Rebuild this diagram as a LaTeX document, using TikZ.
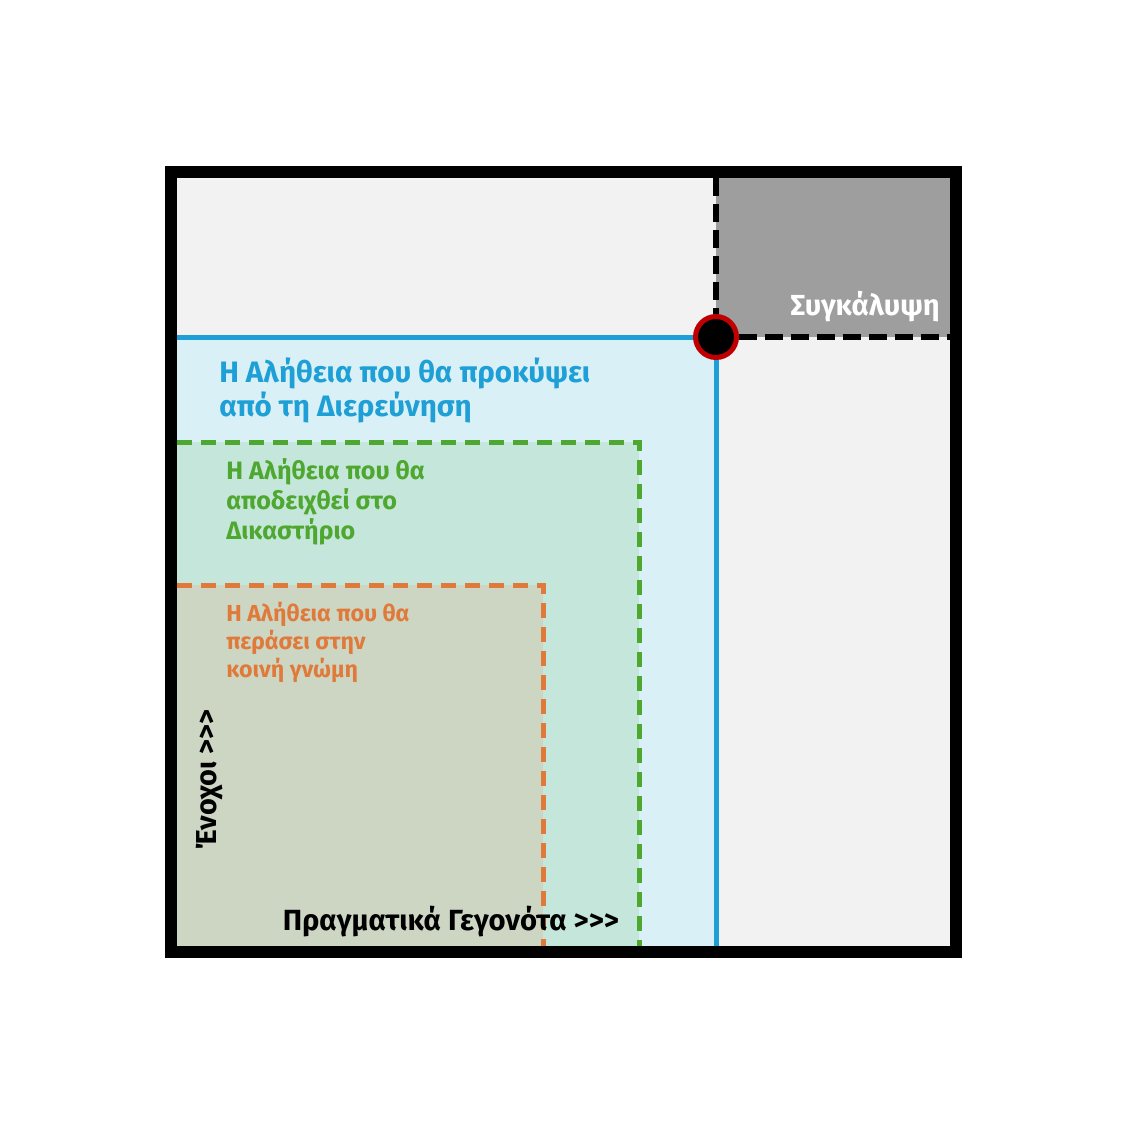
\documentclass[tikz,border=0pt]{standalone}
\usepackage{fontspec}
\setmainfont{Fira Sans}
\usetikzlibrary{positioning}
\definecolor{bgGrey}{RGB}{242,242,242}
\definecolor{coverGrey}{RGB}{158,158,158}
\definecolor{probeFill}{RGB}{218,240,247}
\definecolor{probeBlue}{RGB}{30,159,214}
\definecolor{courtFill}{RGB}{197,230,218}
\definecolor{courtGreen}{RGB}{78,167,46}
\definecolor{publicFill}{RGB}{205,214,195}
\definecolor{publicOrange}{RGB}{224,122,58}
\definecolor{dotRed}{RGB}{192,0,0}
\tikzset{
  frame/.style   = {draw=black, line width=0.24cm},
  solidln/.style = {line width=0.1cm},
  dashln/.style  = {line width=0.1cm, dash pattern=on 0.3cm off 0.18cm},
  bdash/.style   = {line width=0.12cm, dash pattern=on 0.36cm off 0.16cm},
  lbl/.style     = {inner sep=0pt, align=left, font=\bfseries}
}

\begin{document}
\begin{tikzpicture}[x=0.02cm, y=-0.02cm]
    \useasboundingbox[fill=white] (0,0) rectangle (1125,1125);

    % Areas
    \fill[bgGrey] (177,178) rectangle (950,946);
    \fill[coverGrey] (716,178) rectangle (950,337);
    \fill[probeFill] (177,337) rectangle (716,946);
    \fill[courtFill] (177,442) rectangle (639,946);
    \fill[publicFill] (177,585) rectangle (543,946);

    % Corners
    \coordinate (probeL) at (177,337);
    \coordinate (probeB) at (716,946);
    \coordinate (coverT) at (716,178);
    \coordinate (coverR) at (950,337);
    \coordinate (courtL) at (177,442);
    \coordinate (courtC) at (639,442);
    \coordinate (courtB) at (639,946);
    \coordinate (publicL) at (177,585);
    \coordinate (publicC) at (543,585);
    \coordinate (publicB) at (543,946);

    % Borders
    \draw[dashln, publicOrange] (publicL) -- (publicC) -- (publicB);
    \draw[dashln, courtGreen] (courtL) -- (courtC) -- (courtB);
    \draw[solidln, probeBlue] (probeL) -- (716,337) -- (probeB);
    \draw[bdash] (coverT) -- (716,337) -- (coverR);

    % Outer frame
    \draw[frame] (171,172) rectangle (956,952);

    % Meeting point
    \node[circle, fill=black, draw=dotRed, line width=0.1cm,
          minimum size=0.82cm, inner sep=0pt] (hub) at (716,337) {};

    % Labels
    \node[lbl, anchor=east, white, font=\bfseries\fontsize{16.5}{19}\selectfont]
      (lblCover) at (940,307) {Συγκάλυψη};
    \node[lbl, anchor=west, probeBlue, font=\bfseries\fontsize{16.8}{19.3}\selectfont]
      (lblProbe) at (219,390) {Η Αλήθεια που θα προκύψει\\από τη Διερεύνηση};
    \node[lbl, anchor=west, courtGreen, font=\bfseries\fontsize{14.3}{17}\selectfont]
      (lblCourt) at (226,502) {Η Αλήθεια που θα\\αποδειχθεί στο\\Δικαστήριο};
    \node[lbl, anchor=west, publicOrange, font=\bfseries\fontsize{13.2}{15.9}\selectfont]
      (lblPublic) at (226,642) {Η Αλήθεια που θα\\περάσει στην\\κοινή γνώμη};
    \node[lbl, font=\bfseries\fontsize{16.6}{19}\selectfont]
      (lblFacts) at (451,922) {Πραγματικά Γεγονότα >{}>{}>};
    \node[lbl, rotate=90, font=\bfseries\fontsize{16.4}{19}\selectfont]
      (lblGuilty) at (210,780) {Ένοχοι >{}>{}>};
  \end{tikzpicture}
\end{document}
